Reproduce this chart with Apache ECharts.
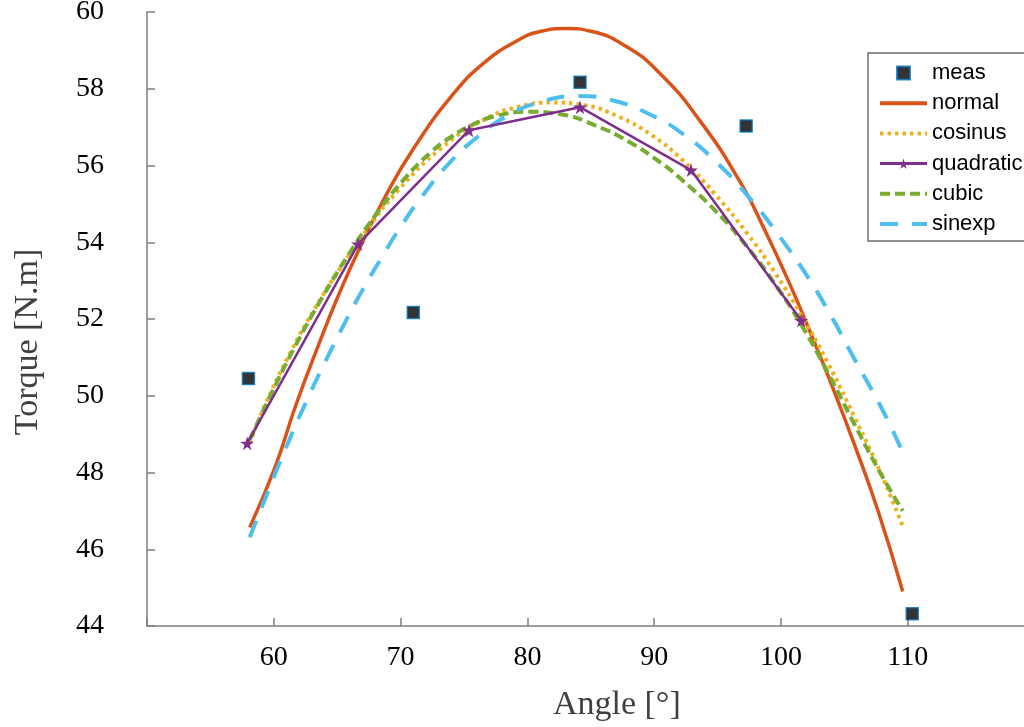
<!DOCTYPE html>
<html>
<head>
<meta charset="utf-8">
<script src="https://cdn.jsdelivr.net/npm/echarts@6/dist/echarts.min.js"></script>
<style>
html,body{margin:0;padding:0;background:#fff;}
#chart{width:1024px;height:727px;}
</style>
</head>
<body>
<div id="chart"></div>
<script>
// Tick settings
const xTicks = [60, 70, 80, 90, 100, 110];
const yTicks = [44, 46, 48, 50, 52, 54, 56, 58, 60];

// Measured points [angle, torque]
const measData = [[58.0, 50.45], [71.0, 52.17], [84.15, 58.17], [97.25, 57.03], [110.35, 44.32]];

// Fit curves
const normalData = [
  [58.1, 46.57], [60.1, 48.14], [61.7, 49.72], [63.5, 51.30], [65.1, 52.62], [66.8, 53.87],
  [69.0, 55.32], [71.1, 56.48], [74.0, 57.80], [76.6, 58.68], [79.3, 59.27], [81.0, 59.49],
  [83.0, 59.57], [85.1, 59.49], [87.7, 59.12], [90.3, 58.45], [93.6, 57.17], [96.9, 55.50],
  [98.7, 54.33], [100.6, 52.98], [102.2, 51.74], [104.0, 50.28], [105.8, 48.72], [107.7, 46.95],
  [109.6, 44.90]
];
const cosinusData = [
  [58.1, 48.75], [59.3, 49.75], [61.4, 51.18], [63.2, 52.25], [65.3, 53.35], [67.4, 54.35],
  [69.8, 55.35], [73.2, 56.45], [76.6, 57.20], [79.3, 57.53], [81.9, 57.64], [84.5, 57.57],
  [87.2, 57.27], [89.8, 56.79], [92.2, 56.15], [94.8, 55.25], [97.4, 54.20], [99.5, 53.22],
  [101.6, 52.10], [103.7, 50.85], [105.8, 49.44], [107.9, 47.96], [109.6, 46.60]
];
const quadraticData = [[57.9, 48.76], [66.65, 53.95], [75.4, 56.92], [84.15, 57.52], [92.9, 55.88], [101.6, 51.96]];
const cubicData = [
  [58.1, 48.85], [59.8, 50.05], [61.7, 51.30], [63.8, 52.55], [65.9, 53.68], [68.0, 54.70],
  [70.3, 55.65], [72.4, 56.35], [74.0, 56.75], [75.6, 57.05], [77.4, 57.28], [80.1, 57.40],
  [82.7, 57.33], [85.3, 57.05], [88.0, 56.62], [90.6, 56.05], [92.2, 55.62], [94.8, 54.83],
  [97.4, 53.85], [99.5, 52.92], [101.6, 51.85], [103.7, 50.60], [105.8, 49.25], [107.9, 47.95],
  [109.6, 47.00]
];
const sinexpData = [
  [58.1, 46.31], [59.6, 47.55], [60.9, 48.60], [62.7, 49.95], [64.3, 51.05], [65.6, 51.90],
  [66.9, 52.70], [68.5, 53.60], [70.1, 54.45], [71.7, 55.20], [73.8, 56.05], [75.9, 56.70],
  [78.2, 57.25], [80.9, 57.64], [84.0, 57.81], [86.9, 57.68], [89.8, 57.31], [92.2, 56.84],
  [94.8, 56.12], [97.4, 55.20], [100.0, 54.10], [102.2, 53.05], [104.0, 52.05], [105.8, 50.95],
  [107.9, 49.70], [109.5, 48.60]
];

const serif = '"Liberation Serif","Times New Roman",serif';
const sans = '"Liberation Sans",Arial,sans-serif';
const axisGrey = '#7f7f7f';
const starPath = 'path://M50,0 L61,35 L98,35 L68,57 L79,91 L50,70 L21,91 L32,57 L2,35 L39,35 Z';
const hidden = {color: 'rgba(0,0,0,0)', borderColor: 'rgba(0,0,0,0)', borderWidth: 0};

const chart = echarts.init(document.getElementById('chart'), null, {renderer: 'canvas'});
chart.setOption({
  animation: false,
  backgroundColor: '#ffffff',
  grid: {left: 147, top: 12, width: 887.6, height: 614, containLabel: false, outerBoundsMode: 'none'},
  xAxis: {
    type: 'value', min: 50, max: 120, interval: 10,
    name: 'Angle [°]', nameLocation: 'middle', nameGap: 62,
    nameTextStyle: {fontFamily: serif, fontSize: 34, color: '#404040', padding: [0, 0, 0, 52]},
    axisLine: {show: true, onZero: false, lineStyle: {color: axisGrey, width: 1.5}},
    axisTick: {show: true, inside: true, length: 8, lineStyle: {color: axisGrey, width: 1.5}},
    axisLabel: {
      fontFamily: serif, fontSize: 28, color: '#000', margin: 18,
      formatter: v => (xTicks.indexOf(v) >= 0 ? String(v) : '')
    },
    splitLine: {show: false}
  },
  yAxis: {
    type: 'value', min: 44, max: 60, interval: 2,
    name: 'Torque [N.m]', nameLocation: 'middle', nameGap: 102,
    nameTextStyle: {fontFamily: serif, fontSize: 34, color: '#404040', padding: [0, 46, 0, 0]},
    axisLine: {show: true, onZero: false, lineStyle: {color: axisGrey, width: 1.5}},
    axisTick: {show: true, inside: true, length: 8, lineStyle: {color: axisGrey, width: 1.5}},
    axisLabel: {
      fontFamily: serif, fontSize: 28, color: '#000', margin: 43,
      formatter: v => (yTicks.indexOf(v) >= 0 ? String(v) : '')
    },
    splitLine: {show: false}
  },
  legend: {
    orient: 'vertical', left: 868, top: 53,
    padding: [9, 12, 6, 10],
    itemWidth: 47, itemHeight: 13, itemGap: 8.2,
    backgroundColor: '#ffffff',
    borderColor: '#6e6e6e', borderWidth: 1.5, borderRadius: 0,
    textStyle: {fontFamily: sans, fontSize: 22, color: '#000', lineHeight: 22},
    data: [
      {name: 'meas', icon: 'path://M0,0H10V10H0Z'},
      {name: 'normal', itemStyle: hidden, lineStyle: {width: 4}},
      {name: 'cosinus', itemStyle: hidden, lineStyle: {width: 4}},
      {name: 'quadratic', lineStyle: {width: 3}},
      {name: 'cubic', itemStyle: hidden, lineStyle: {width: 4}},
      {name: 'sinexp', itemStyle: hidden, lineStyle: {width: 4}}
    ]
  },
  series: [
    {
      name: 'normal', type: 'line', data: normalData, smooth: 0.5, symbol: 'none',
      lineStyle: {color: '#D95319', width: 3.5}, itemStyle: {color: '#D95319'}, z: 3
    },
    {
      name: 'cosinus', type: 'line', data: cosinusData, smooth: 0.5, symbol: 'none',
      lineStyle: {color: '#EDB120', width: 4, type: [3.5, 4]}, itemStyle: {color: '#EDB120'}, z: 3
    },
    {
      name: 'quadratic', type: 'line', data: quadraticData, smooth: false,
      symbol: starPath, symbolSize: 14,
      lineStyle: {color: '#7E2F8E', width: 2.5}, itemStyle: {color: '#7E2F8E'}, z: 4
    },
    {
      name: 'cubic', type: 'line', data: cubicData, smooth: 0.5, symbol: 'none',
      lineStyle: {color: '#77AC30', width: 4, type: [10, 5]}, itemStyle: {color: '#77AC30'}, z: 3
    },
    {
      name: 'sinexp', type: 'line', data: sinexpData, smooth: 0.5, symbol: 'none',
      lineStyle: {color: '#4DBEEE', width: 4, type: [18, 14]}, itemStyle: {color: '#4DBEEE'}, z: 3
    },
    {
      name: 'meas', type: 'scatter', data: measData, symbol: 'rect', symbolSize: 12,
      itemStyle: {color: '#000000', borderColor: '#0072BD', borderWidth: 1.5}, z: 5
    }
  ]
});
</script>
</body>
</html>
